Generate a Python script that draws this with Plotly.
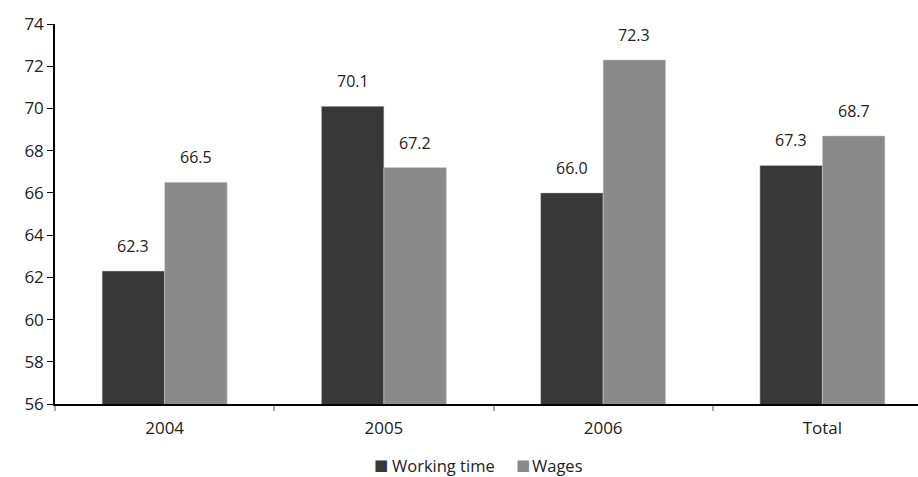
import plotly.graph_objects as go

categories = ["2004", "2005", "2006", "Total"]
working_time = [62.3, 70.1, 66.0, 67.3]
wages = [66.5, 67.2, 72.3, 68.7]
y_ticks = [56, 58, 60, 62, 64, 66, 68, 70, 72, 74]
series_names = ["Working time", "Wages"]

FONT = "Open Sans, Noto Sans, sans-serif"
TEXT = "#222222"
DARK = "#383838"
GRAY = "#8a8a8a"

x_pos = list(range(len(categories)))
bargap = 0.43
bar_w = (1 - bargap) / 2

fig = go.Figure()
for name, vals, col in ((series_names[0], working_time, DARK),
                        (series_names[1], wages, GRAY)):
    fig.add_trace(go.Bar(
        x=x_pos, y=vals, name=name, showlegend=False,
        marker=dict(color=col, line=dict(color="#d0d0d0", width=0.5)),
    ))

# value labels centred above each bar
annotations = []
for i, (a, b) in enumerate(zip(working_time, wages)):
    for xv, v in ((i - bar_w / 2, a), (i + bar_w / 2, b)):
        annotations.append(dict(
            x=xv, y=v, xref="x", yref="y", text=f"{v:.1f}",
            showarrow=False, yanchor="bottom", yshift=12,
            font=dict(family=FONT, size=16, color=TEXT),
        ))

# legend drawn as a row of swatches and names below the axis
legend_y = -0.162
for sx, tx, name, col in ((0.369, 0.389, series_names[0], DARK),
                          (0.533, 0.552, series_names[1], GRAY)):
    annotations.append(dict(
        x=sx, y=legend_y, xref="paper", yref="paper", xanchor="left", yanchor="middle",
        text="■", showarrow=False, yshift=1, borderpad=0,
        font=dict(family="DejaVu Sans", size=15, color=col),
    ))
    annotations.append(dict(
        x=tx, y=legend_y, xref="paper", yref="paper", xanchor="left", yanchor="middle",
        text=name, showarrow=False, borderpad=0,
        font=dict(family=FONT, size=16.5, color=TEXT),
    ))

fig.update_layout(
    width=918, height=477,
    margin=dict(l=55, r=0, t=24, b=73),
    paper_bgcolor="white", plot_bgcolor="white",
    barmode="group", bargap=bargap, bargroupgap=0,
    font=dict(family=FONT, size=17, color=TEXT),
    annotations=annotations,
    xaxis=dict(
        range=[-0.5, 3.436],
        tickvals=x_pos, ticktext=categories, ticks="",
        ticklabelstandoff=8,
        showline=True, linecolor="black", linewidth=1.5,
        showgrid=False, zeroline=False,
        minor=dict(tickvals=[-0.5, 0.5, 1.5, 2.5], ticks="outside",
                   ticklen=5, tickcolor="#aaaaaa", tickwidth=1.5, showgrid=False),
        tickfont=dict(family=FONT, size=17, color=TEXT),
    ),
    yaxis=dict(
        range=[56, 74], tickvals=y_ticks,
        ticks="outside", ticklen=6, tickcolor="black",
        showline=True, linecolor="black", linewidth=1.5,
        showgrid=False, zeroline=False,
        tickfont=dict(family=FONT, size=17, color=TEXT),
    ),
)

fig.write_html("out.html")
